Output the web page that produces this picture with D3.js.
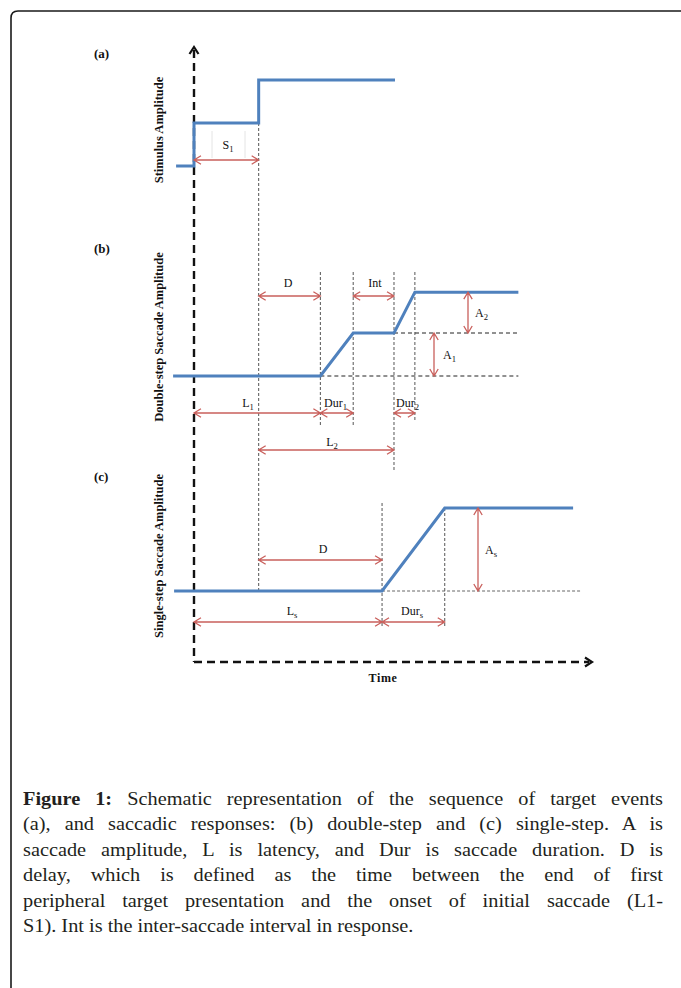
<!DOCTYPE html>
<html>
<head>
<meta charset="utf-8">
<script src="https://cdn.jsdelivr.net/npm/d3@7"></script>
<style>
  html, body { margin: 0; padding: 0; background: #fff; }
  svg { display: block; }
</style>
</head>
<body>
<svg id="fig" width="681" height="988"></svg>
<script>
// ---- Schematic values (time units ~ ms, amplitude units arbitrary) ----
// (a) stimulus: fixation, first peripheral step, second step
const stimTime = [-18, 0, 0, 65, 65, 202];
const stimAmp  = [0, 0, 1, 1, 2, 2];

// (b) double-step response
const doubleTime = [-21, 127, 160, 201, 222, 326];
const doubleAmp  = [0, 0, 1, 1, 1.95, 1.95];

// (c) single-step response
const singleTime = [-20, 189, 252, 381];
const singleAmp  = [0, 0, 1.93, 1.93];

// Event intervals
const S1 = 65, L1 = 127, Dur1 = 33, Int = 41, Dur2 = 21, Ls = 189, Durs = 63;
const L2 = L1 + Dur1 + Int;
const A1 = 1, A2 = 0.95, As = 1.93;

// Caption lines (justified except the last)
const captionLead = "Figure 1:";
const captionLines = [
  "Schematic representation of the sequence of target events",
  "(a), and saccadic responses: (b) double-step and (c) single-step. A is",
  "saccade amplitude, L is latency, and Dur is saccade duration. D is",
  "delay, which is defined as the time between the end of first",
  "peripheral target presentation and the onset of initial saccade (L1-",
  "S1). Int is the inter-saccade interval in response."
];

const svg = d3.select("#fig");
const BLUE = "#4f81bd", RED = "#c9605c", GREY = "#555";
const SERIF = "'Liberation Serif', 'Times New Roman', serif";

// ---- Frame ----
svg.append("path")
  .attr("d", "M11,988 L11,18 Q11,11 18,11 L681,11")
  .attr("fill", "none").attr("stroke", "#1a1a1a").attr("stroke-width", 1.6);

// ---- Scales ----
const x = d3.scaleLinear().domain([0, 400]).range([194, 592]);
const yA = d3.scaleLinear().domain([0, 2]).range([166, 80]);
const yB = d3.scaleLinear().domain([0, 2]).range([376, 290]);
const yC = d3.scaleLinear().domain([0, 2]).range([591, 505]);

const g = svg.append("g");

// ---- Helpers ----
function vguide(t, y0, y1, color = GREY, dash = "3,2", w = 1) {
  g.append("line").attr("x1", x(t)).attr("x2", x(t)).attr("y1", y0).attr("y2", y1)
    .attr("stroke", color).attr("stroke-width", w).attr("stroke-dasharray", dash);
}
function hguide(t0, t1, y, color = "#222", dash = "4,3", w = 1) {
  g.append("line").attr("x1", x(t0)).attr("x2", x(t1)).attr("y1", y).attr("y2", y)
    .attr("stroke", color).attr("stroke-width", w).attr("stroke-dasharray", dash);
}
// double-headed open arrow
function arrow(x0, y0, x1, y1) {
  const ang = Math.atan2(y1 - y0, x1 - x0);
  const L = 7, W = 4.2;
  const head = (px, py, a) => {
    const bx = px - L * Math.cos(a), by = py - L * Math.sin(a);
    const nx = -Math.sin(a) * W, ny = Math.cos(a) * W;
    return `M${bx + nx},${by + ny} L${px},${py} L${bx - nx},${by - ny}`;
  };
  g.append("path")
    .attr("d", `M${x0},${y0} L${x1},${y1} ` + head(x1, y1, ang) + " " + head(x0, y0, ang + Math.PI))
    .attr("fill", "none").attr("stroke", RED).attr("stroke-width", 1.3);
}
function label(px, py, main, sub, anchor = "middle", size = 12) {
  const t = g.append("text").attr("x", px).attr("y", py)
    .attr("text-anchor", anchor).attr("font-family", SERIF)
    .attr("font-size", size).attr("fill", "#111");
  t.append("tspan").text(main);
  if (sub) t.append("tspan").attr("font-size", size * 0.72).attr("dy", 2.5).text(sub);
}
const line = (xs, ys, yScale) =>
  d3.line().x(d => x(d[0])).y(d => yScale(d[1]))(xs.map((v, i) => [v, ys[i]]));

// ---- Guides (thin dashed) ----
vguide(S1, yA(1), yC(0));                         // end of first target
vguide(L1, 272, 427);                             // onset of first saccade
vguide(L1 + Dur1, 272, 427);                      // end of first saccade
vguide(L2, 272, 470);                             // onset of second saccade
vguide(L2 + Dur2, 272, 420);                      // end of second saccade
vguide(Ls, 503, 627);                             // onset of single saccade
vguide(Ls + Durs, yC(As), 627);                   // end of single saccade

hguide(L1, doubleTime[5], yB(0));
hguide(L2, doubleTime[5], yB(A1));
hguide(Ls, 388, yC(0), "#666", "3,2");

// faint text-box edges around the S1 label
g.append("line").attr("x1", 212).attr("x2", 212).attr("y1", 131).attr("y2", 158)
  .attr("stroke", "#ddd").attr("stroke-width", 0.8);
g.append("line").attr("x1", 245).attr("x2", 245).attr("y1", 131).attr("y2", 158)
  .attr("stroke", "#ddd").attr("stroke-width", 0.8);

// ---- Axes (dashed, with open arrowheads) ----
const axX = x(0), axBottom = 662, axTop = 47, axRight = x(400);
g.append("line").attr("x1", axX).attr("x2", axX).attr("y1", axTop + 3).attr("y2", axBottom)
  .attr("stroke", "#111").attr("stroke-width", 2.4).attr("stroke-dasharray", "8,5");
g.append("line").attr("x1", axX).attr("x2", axRight - 3).attr("y1", axBottom).attr("y2", axBottom)
  .attr("stroke", "#111").attr("stroke-width", 2.4).attr("stroke-dasharray", "8,5");
g.append("path").attr("d", `M${axX - 4.5},${axTop + 7} L${axX},${axTop} L${axX + 4.5},${axTop + 7}`)
  .attr("fill", "none").attr("stroke", "#111").attr("stroke-width", 2.2);
g.append("path").attr("d", `M${axRight - 7},${axBottom - 4.5} L${axRight},${axBottom} L${axRight - 7},${axBottom + 4.5}`)
  .attr("fill", "none").attr("stroke", "#111").attr("stroke-width", 2.2);

// ---- Traces ----
[[stimTime, stimAmp, yA], [doubleTime, doubleAmp, yB], [singleTime, singleAmp, yC]]
  .forEach(([xs, ys, ys2]) => {
    g.append("path").attr("d", line(xs, ys, ys2)).attr("fill", "none")
      .attr("stroke", BLUE).attr("stroke-width", 3).attr("stroke-linejoin", "miter");
  });

// ---- Interval arrows ----
arrow(x(0), 160, x(S1), 160);                              label(228, 149, "S", "1");
arrow(x(S1), 296, x(L1), 296);                             label(288, 287, "D");
arrow(x(L1 + Dur1), 296, x(L2), 296);                      label(375, 287, "Int");
arrow(468, yB(A1 + A2), 468, yB(A1));                      label(475, 317, "A", "2", "start");
arrow(434, yB(A1), 434, yB(0));                            label(443, 359, "A", "1", "start");
arrow(x(0), 413, x(L1), 413);                              label(248, 407, "L", "1");
arrow(x(L1), 413, x(L1 + Dur1), 413);                      label(324, 407, "Dur", "1", "start");
arrow(x(L2), 413, x(L2 + Dur2), 413);                      label(396, 407, "Dur", "2", "start");
arrow(x(S1), 450, x(L2), 450);                             label(332, 446, "L", "2");
arrow(x(S1), 560, x(Ls), 560);                             label(323, 553, "D");
arrow(478, yC(As), 478, yC(0));                            label(485, 554, "A", "s", "start");
arrow(x(0), 622, x(Ls), 622);                              label(292, 615, "L", "s");
arrow(x(Ls), 622, x(Ls + Durs), 622);                      label(401, 615, "Dur", "s", "start");

// ---- Panel tags and axis titles ----
[["(a)", 58], ["(b)", 253], ["(c)", 481]].forEach(([t, y]) => {
  g.append("text").attr("x", 94).attr("y", y).attr("font-family", SERIF)
    .attr("font-weight", "bold").attr("font-size", 13).attr("fill", "#111").text(t);
});
[["Stimulus Amplitude", 130], ["Double-step Saccade Amplitude", 337], ["Single-step Saccade Amplitude", 556]]
  .forEach(([t, cy]) => {
    g.append("text").attr("transform", `translate(163,${cy}) rotate(-90)`)
      .attr("text-anchor", "middle").attr("font-family", SERIF)
      .attr("font-weight", "bold").attr("font-size", 12.5).attr("fill", "#111").text(t);
  });
g.append("text").attr("x", 383).attr("y", 682).attr("text-anchor", "middle")
  .attr("font-family", SERIF).attr("font-weight", "bold").attr("font-size", 12)
  .attr("letter-spacing", 0.6).attr("fill", "#111").text("Time");

// ---- Caption (justified, slightly widened serif) ----
const capLeft = 23, capRight = 663, capTop = 805, capStep = 25.5, capSize = 19, capStretch = 1.07;
const capWidth = (capRight - capLeft) / capStretch;
const cap = svg.append("g").attr("transform", `translate(${capLeft},0) scale(${capStretch},1)`);
captionLines.forEach((txt, i) => {
  const t = cap.append("text").attr("x", 0).attr("y", capTop + i * capStep)
    .attr("font-family", SERIF).attr("font-size", capSize).attr("fill", "#231f20")
    .style("white-space", "pre");
  let words = txt.split(" ").length - 1;
  if (i === 0) {
    t.append("tspan").attr("font-weight", "bold").text(captionLead + " ");
    words += 2;
  }
  t.append("tspan").text(txt);
  if (i < captionLines.length - 1) {
    const w = t.node().getComputedTextLength();
    const extra = (capWidth - w) / words;
    t.attr("word-spacing", extra);
  }
});
</script>
</body>
</html>
